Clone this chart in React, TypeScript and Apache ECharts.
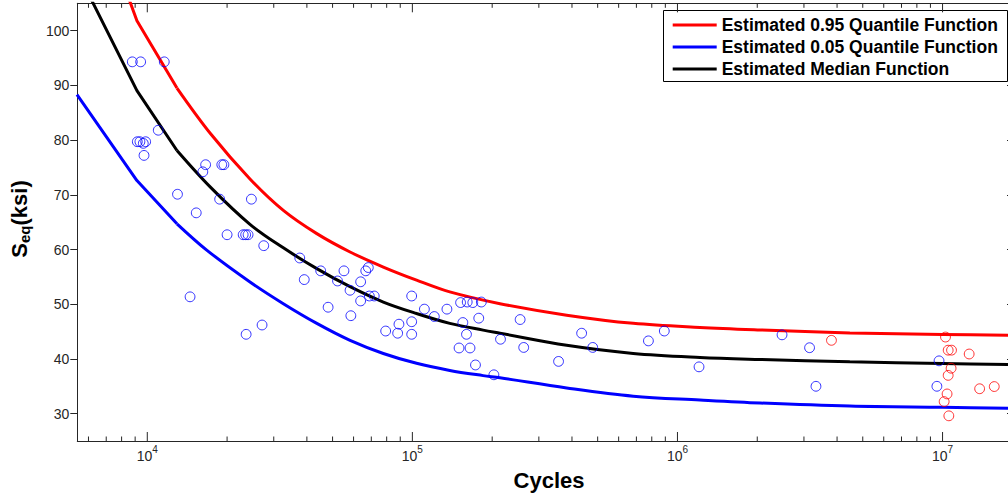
import React, { useEffect, useRef } from 'react';
import * as echarts from 'echarts';

const FONT = '"Liberation Sans", Arial, Helvetica, sans-serif';
const AXIS_COLOR = '#262626';

// Observed data (cycles, S_eq ksi)
const bluePoints: [number, number][] = [
  [8780, 94.3], [9440, 94.3], [11590, 94.3],
  [9170, 79.7], [9380, 79.7], [9660, 79.4], [9860, 79.7], [9720, 77.2],
  [11000, 81.8],
  [16600, 75.5], [16200, 74.2], [19100, 75.5], [19450, 75.5],
  [13000, 70.1], [18750, 69.2], [24700, 69.2], [15300, 66.7],
  [20000, 62.7], [23000, 62.7], [23500, 62.7], [24000, 62.7],
  [27500, 60.7],
  [37600, 58.45], [39100, 54.5], [45100, 56.1], [52200, 54.25], [48100, 49.45],
  [14500, 51.35], [23600, 44.5], [27100, 46.2],
  [55200, 56.1], [58200, 52.55], [58600, 47.9], [63800, 54.1], [63800, 50.6],
  [66700, 56.1], [68200, 56.7], [68800, 51.5], [71800, 51.5],
  [79300, 45.1], [89000, 46.35], [88000, 44.7], [99400, 51.5], [99400, 46.8], [99400, 44.5],
  [111000, 49.1], [121000, 47.75], [135000, 49.1], [152000, 50.3], [161000, 50.4],
  [169000, 50.3], [182000, 50.4],
  [155000, 46.65], [160000, 44.5], [178000, 47.45], [150000, 42.0], [165000, 42.0],
  [173000, 38.9], [203000, 37.1],
  [215000, 43.6], [255000, 47.2], [263000, 42.1], [356000, 39.55], [435000, 44.7],
  [479000, 42.1], [777000, 43.3], [892000, 45.1],
  [1206000, 38.55], [2480000, 44.4], [3150000, 42.05], [3330000, 35.0],
  [9700000, 39.65], [9520000, 35.0],
];

const redPoints: [number, number][] = [
  [3810000, 43.4], [10260000, 44.0], [10500000, 41.6], [10810000, 41.6],
  [12600000, 40.9], [10770000, 38.3], [10500000, 37.0], [13800000, 34.55],
  [15670000, 34.95], [10400000, 33.6], [10140000, 32.2], [10560000, 29.6],
];

// Curves: steep straight-segment head, then the smooth remainder
const q95Head: [number, number][] = [[5430, 131.8], [9140, 101.8], [12940, 89.5]];
const q95Curve: [number, number][] = [
  [12940, 89.5], [17300, 81.2], [24400, 72.9], [32600, 67.15], [43600, 62.9],
  [58200, 59.55], [77700, 56.8], [103700, 54.4], [138400, 52.25], [214000, 50.1],
  [382000, 48.0], [681000, 46.5], [1216000, 45.75], [2050000, 45.3],
  [4470000, 44.76], [10000000, 44.47], [18600000, 44.3],
];

const medianHead: [number, number][] = [[5430, 110.9], [9140, 89.05], [12940, 78.1]];
const medianCurve: [number, number][] = [
  [12940, 78.1], [17300, 71.4], [24400, 64.6], [32600, 60.3], [43600, 56.5],
  [58200, 53.2], [77700, 50.4], [103700, 48.3], [138400, 46.5], [184900, 45.26],
  [214000, 44.7], [382000, 42.5], [681000, 41.0], [1216000, 40.27], [2050000, 39.9],
  [4470000, 39.47], [10000000, 39.18], [18600000, 38.95],
];

const q05Head: [number, number][] = [[5430, 88.3], [9140, 72.6], [12940, 64.7]];
const q05Curve: [number, number][] = [
  [12940, 64.7], [16800, 59.85], [24400, 54.07], [32600, 50.1], [43600, 46.5],
  [58200, 43.4], [77700, 41.0], [103700, 39.2], [138400, 37.9], [184900, 36.95],
  [214000, 36.55], [382000, 34.7], [681000, 33.2], [1216000, 32.5], [2050000, 31.95],
  [4470000, 31.39], [10000000, 31.15], [18600000, 30.97],
];

const seriesNames = [
  'Estimated 0.95 Quantile Function',
  'Estimated 0.05 Quantile Function',
  'Estimated Median Function',
];
const seriesColors = ['#ff0000', '#0000ff', '#000000'];

const yTicks = [30, 40, 50, 60, 70, 80, 90, 100];
const xMajorTicks = [1e4, 1e5, 1e6, 1e7];
const xMinorTicks = [
  6e3, 7e3, 8e3, 9e3,
  2e4, 3e4, 4e4, 5e4, 6e4, 7e4, 8e4, 9e4,
  2e5, 3e5, 4e5, 5e5, 6e5, 7e5, 8e5, 9e5,
  2e6, 3e6, 4e6, 5e6, 6e6, 7e6, 8e6, 9e6,
];

const X_MIN = 5445;
const X_MAX = 18600000;
const Y_MIN = 25;
const Y_MAX = 105;

function lineSeries(name: string, data: [number, number][], color: string, smooth: boolean) {
  return {
    type: 'line',
    name,
    data,
    symbol: 'none',
    smooth: smooth ? 0.35 : false,
    color,
    itemStyle: { color },
    lineStyle: { color, width: 3 },
    z: 2,
    silent: true,
  };
}

export default function App() {
  const ref = useRef<HTMLDivElement>(null);

  useEffect(() => {
    if (!ref.current) return;
    const chart = echarts.init(ref.current, undefined, { renderer: 'svg' });

    const tickData = [
      ...xMajorTicks.map((v) => [v, 30, 1]),
      ...xMinorTicks.map((v) => [v, 30, 0]),
    ];

    const option: any = {
      animation: false,
      backgroundColor: '#ffffff',
      grid: { left: 77.3, top: 3.3, right: 6, bottom: 56, containLabel: false },
      xAxis: [
        {
          type: 'log',
          logBase: 10,
          min: X_MIN,
          max: X_MAX,
          position: 'bottom',
          axisLine: { show: true, lineStyle: { color: AXIS_COLOR, width: 1 } },
          axisTick: { show: false },
          splitLine: { show: false },
          axisLabel: {
            showMinLabel: false,
            showMaxLabel: false,
            margin: 6.5,
            formatter: (v: number) => {
              const e = Math.log10(v);
              if (Math.abs(e - Math.round(e)) > 1e-6) return '';
              return `{b|10}{s|${Math.round(e)}}`;
            },
            rich: {
              b: { fontSize: 14, lineHeight: 16, color: AXIS_COLOR, fontFamily: FONT },
              s: { fontSize: 10, lineHeight: 10, padding: [0, 0, 13, 0], color: AXIS_COLOR, fontFamily: FONT },
            },
          },
        },
        {
          type: 'log',
          logBase: 10,
          min: X_MIN,
          max: X_MAX,
          position: 'top',
          axisLine: { show: true, lineStyle: { color: AXIS_COLOR, width: 1 } },
          axisTick: { show: false },
          axisLabel: { show: false },
          splitLine: { show: false },
        },
      ],
      yAxis: [
        {
          type: 'value',
          min: Y_MIN,
          max: Y_MAX,
          splitNumber: 8,
          position: 'left',
          axisLine: { show: true, lineStyle: { color: AXIS_COLOR, width: 1 } },
          axisTick: {
            show: true,
            inside: false,
            length: 7,
            customValues: yTicks,
            lineStyle: { color: AXIS_COLOR, width: 1 },
          },
          splitLine: { show: false },
          axisLabel: {
            customValues: yTicks,
            margin: 8,
            fontSize: 14,
            color: AXIS_COLOR,
            fontFamily: FONT,
          },
        },
        {
          type: 'value',
          min: Y_MIN,
          max: Y_MAX,
          splitNumber: 8,
          position: 'right',
          axisLine: { show: true, lineStyle: { color: AXIS_COLOR, width: 1 } },
          axisTick: {
            show: true,
            inside: true,
            length: 7,
            customValues: yTicks,
            lineStyle: { color: AXIS_COLOR, width: 1 },
          },
          axisLabel: { show: false },
          splitLine: { show: false },
        },
      ],
      legend: {
        data: seriesNames.map((name) => ({ name, icon: 'rect' })),
        orient: 'vertical',
        left: 672.7,
        top: 16,
        padding: 0,
        itemWidth: 44,
        itemHeight: 3,
        itemGap: 4,
        selectedMode: false,
        z: 5,
        textStyle: {
          fontSize: 17.5,
          fontWeight: 'bold',
          color: '#000',
          fontFamily: FONT,
          lineHeight: 17,
        },
      },
      graphic: [
        {
          type: 'rect',
          z: 4,
          shape: { x: 663.5, y: 10.5, width: 344, height: 71 },
          style: { fill: '#ffffff', stroke: '#000000', lineWidth: 1 },
        },
        {
          type: 'text',
          x: 549,
          y: 480,
          style: {
            text: 'Cycles',
            fontSize: 22,
            fontWeight: 'bold',
            fontFamily: FONT,
            fill: '#000',
            align: 'center',
            verticalAlign: 'middle',
          },
        },
        {
          type: 'text',
          x: 19.4,
          y: 219,
          rotation: Math.PI / 2,
          style: {
            text: '{m|S}{s|eq}{m|(ksi)}',
            align: 'center',
            verticalAlign: 'middle',
            rich: {
              m: { fontSize: 22, lineHeight: 24, fontWeight: 'bold', fontFamily: FONT, fill: '#000' },
              s: { fontSize: 15, lineHeight: 15, padding: [11, 0, 0, 0], fontWeight: 'bold', fontFamily: FONT, fill: '#000' },
            },
          },
        },
      ],
      series: [
        {
          type: 'custom',
          name: 'xticks',
          silent: true,
          xAxisIndex: 0,
          yAxisIndex: 0,
          encode: { x: 0, y: 1 },
          data: tickData,
          z: 5,
          renderItem: (params: any, api: any) => {
            const v = api.value(0);
            const major = api.value(2) === 1;
            const x = api.coord([v, 30])[0];
            const cs = params.coordSys;
            const len = major ? 9 : 4.5;
            const bottom = cs.y + cs.height;
            const st = { stroke: AXIS_COLOR, lineWidth: 1 };
            return {
              type: 'group',
              children: [
                { type: 'line', shape: { x1: x, y1: bottom, x2: x, y2: bottom - len }, style: st },
                { type: 'line', shape: { x1: x, y1: cs.y, x2: x, y2: cs.y + len }, style: st },
              ],
            };
          },
        },
        {
          type: 'scatter',
          name: 'blue data',
          data: bluePoints,
          symbol: 'circle',
          symbolSize: 9.8,
          itemStyle: { color: 'rgba(0,0,0,0)', borderColor: '#0000ff', borderWidth: 1 },
          z: 3,
        },
        {
          type: 'scatter',
          name: 'red data',
          data: redPoints,
          symbol: 'circle',
          symbolSize: 9.8,
          itemStyle: { color: 'rgba(0,0,0,0)', borderColor: '#ff0000', borderWidth: 1 },
          z: 3,
        },
        lineSeries(seriesNames[0], q95Curve, seriesColors[0], true),
        lineSeries(seriesNames[0] + ' head', q95Head, seriesColors[0], false),
        lineSeries(seriesNames[1], q05Curve, seriesColors[1], true),
        lineSeries(seriesNames[1] + ' head', q05Head, seriesColors[1], false),
        lineSeries(seriesNames[2], medianCurve, seriesColors[2], true),
        lineSeries(seriesNames[2] + ' head', medianHead, seriesColors[2], false),
      ],
    };

    chart.setOption(option);
    return () => {
      chart.dispose();
    };
  }, []);

  return (
    <div
      style={{
        position: 'fixed',
        left: 0,
        top: 0,
        width: 1008,
        height: 497,
        overflow: 'hidden',
        background: '#ffffff',
      }}
    >
      <div ref={ref} style={{ width: 1020, height: 497 }} />
    </div>
  );
}
